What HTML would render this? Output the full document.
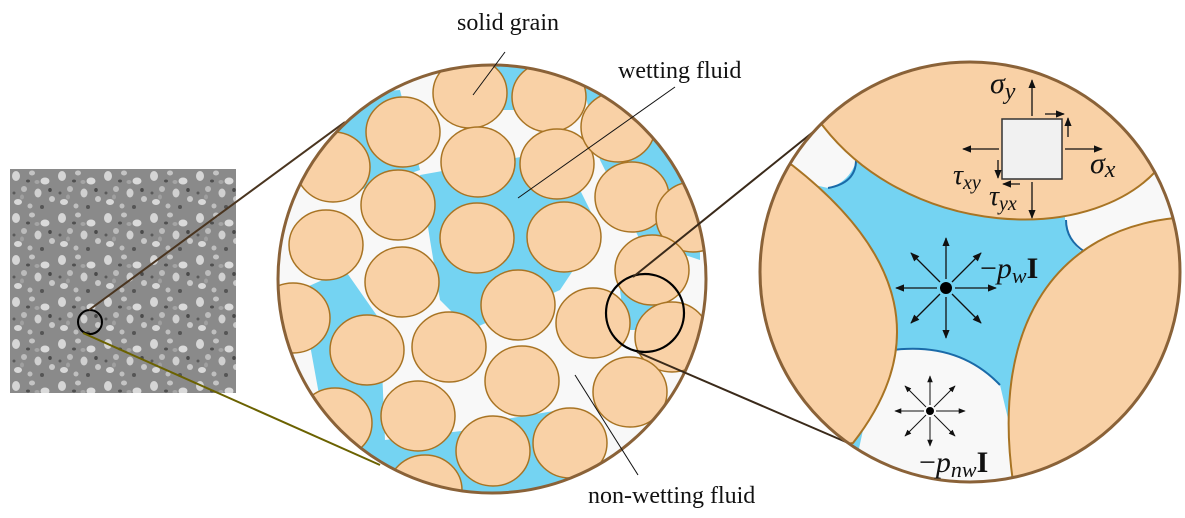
<!DOCTYPE html>
<html><head><meta charset="utf-8"><style>
html,body{margin:0;padding:0;background:#fff;}
svg{display:block;}
text{font-family:"Liberation Serif",serif;fill:#111;}
</style></head><body>
<svg width="1185" height="518" viewBox="0 0 1185 518" xmlns="http://www.w3.org/2000/svg">
<defs>
<pattern id="tex" x="10" y="169" width="46" height="42" patternUnits="userSpaceOnUse">
<rect width="46" height="42" fill="#8a8a8a"/>
<ellipse cx="6" cy="7" rx="4" ry="5" fill="#d6d6d6"/>
<ellipse cx="22" cy="4" rx="3" ry="2.5" fill="#c4c4c4"/>
<ellipse cx="35" cy="12" rx="4.5" ry="3.5" fill="#dadada"/>
<ellipse cx="14" cy="20" rx="3" ry="3" fill="#bcbcbc"/>
<ellipse cx="28" cy="24" rx="3.5" ry="4.5" fill="#d0d0d0"/>
<ellipse cx="42" cy="30" rx="3" ry="3" fill="#c8c8c8"/>
<ellipse cx="8" cy="33" rx="4" ry="3" fill="#d8d8d8"/>
<ellipse cx="20" cy="37" rx="2.5" ry="2.5" fill="#bfbfbf"/>
<ellipse cx="32" cy="38" rx="2" ry="2" fill="#555"/>
<ellipse cx="18" cy="12" rx="2" ry="1.5" fill="#505050"/>
<ellipse cx="40" cy="21" rx="1.8" ry="2" fill="#4a4a4a"/>
<ellipse cx="4" cy="24" rx="1.5" ry="1.5" fill="#5a5a5a"/>
<ellipse cx="27" cy="13" rx="2.5" ry="2" fill="#a5a5a5"/>
<ellipse cx="12" cy="28" rx="2" ry="2.5" fill="#a0a0a0"/>
</pattern>
<clipPath id="cm"><circle cx="492" cy="279" r="214"/></clipPath>
<clipPath id="cr"><circle cx="970" cy="272" r="210"/></clipPath>
<marker id="ar" viewBox="0 0 10 10" refX="9" refY="5" markerWidth="7" markerHeight="7" orient="auto-start-reverse"><path d="M0,1 L10,5 L0,9 Z" fill="#111"/></marker>
</defs>

<rect x="10" y="169" width="226" height="224" fill="url(#tex)"/>
<circle cx="90" cy="322" r="12" fill="none" stroke="#000" stroke-width="2"/>
<line x1="89" y1="310" x2="345" y2="122" stroke="#4a3520" stroke-width="2"/>
<line x1="83" y1="333" x2="380" y2="465" stroke="#6b6200" stroke-width="2"/>

<circle cx="492" cy="279" r="214" fill="#f8f8f8"/>
<g clip-path="url(#cm)" fill="#74d3f2">
<path d="M420 175 L560 150 L600 230 L560 290 L470 330 L440 300 L430 240 Z"/>
<path d="M300 290 L345 270 L380 320 L385 440 L470 430 L500 420 L560 410 L600 470 L560 500 L380 500 L320 470 L320 400 Z"/>
<path d="M580 70 L700 130 L700 260 L640 240 L600 160 Z"/>
<path d="M330 95 L400 90 L420 170 L360 190 L330 150 Z"/>
<path d="M480 65 L560 65 L540 110 L500 110 Z"/>
<path d="M620 290 L665 290 L665 330 L625 330 Z"/>
</g>
<g clip-path="url(#cm)" fill="#f9d1a6" stroke="#a87424" stroke-width="1.5">
<ellipse cx="470" cy="93" rx="37" ry="35"/><ellipse cx="549" cy="97" rx="37" ry="35"/>
<ellipse cx="403" cy="132" rx="37" ry="35"/><ellipse cx="478" cy="162" rx="37" ry="35"/>
<ellipse cx="557" cy="164" rx="37" ry="35"/><ellipse cx="618" cy="127" rx="37" ry="35"/>
<ellipse cx="333" cy="167" rx="37" ry="35"/><ellipse cx="398" cy="205" rx="37" ry="35"/>
<ellipse cx="477" cy="238" rx="37" ry="35"/><ellipse cx="564" cy="237" rx="37" ry="35"/>
<ellipse cx="632" cy="197" rx="37" ry="35"/><ellipse cx="693" cy="217" rx="37" ry="35"/>
<ellipse cx="326" cy="245" rx="37" ry="35"/><ellipse cx="402" cy="282" rx="37" ry="35"/>
<ellipse cx="518" cy="305" rx="37" ry="35"/><ellipse cx="652" cy="270" rx="37" ry="35"/>
<ellipse cx="593" cy="323" rx="37" ry="35"/><ellipse cx="293" cy="318" rx="37" ry="35"/>
<ellipse cx="367" cy="350" rx="37" ry="35"/><ellipse cx="449" cy="347" rx="37" ry="35"/>
<ellipse cx="522" cy="381" rx="37" ry="35"/><ellipse cx="672" cy="337" rx="37" ry="35"/>
<ellipse cx="630" cy="392" rx="37" ry="35"/><ellipse cx="418" cy="416" rx="37" ry="35"/>
<ellipse cx="335" cy="423" rx="37" ry="35"/><ellipse cx="493" cy="451" rx="37" ry="35"/>
<ellipse cx="570" cy="443" rx="37" ry="35"/><ellipse cx="425" cy="490" rx="37" ry="35"/>
</g>
<circle cx="492" cy="279" r="214" fill="none" stroke="#8a6238" stroke-width="3"/>
<circle cx="645" cy="313" r="39" fill="none" stroke="#000" stroke-width="2.2"/>
<line x1="633" y1="277" x2="828" y2="120" stroke="#3a2a1a" stroke-width="2"/>
<line x1="637" y1="352" x2="853" y2="445" stroke="#3a2a1a" stroke-width="2"/>

<text x="457" y="30" font-size="24">solid grain</text>
<line x1="505" y1="52" x2="473" y2="95" stroke="#111" stroke-width="1"/>
<text x="618" y="78" font-size="24">wetting fluid</text>
<line x1="675" y1="87" x2="518" y2="198" stroke="#111" stroke-width="1"/>
<text x="588" y="503" font-size="24">non-wetting fluid</text>
<line x1="575" y1="375" x2="638" y2="475" stroke="#111" stroke-width="1"/>

<circle cx="970" cy="272" r="210" fill="#74d3f2"/>
<g clip-path="url(#cr)">
<path d="M880 352 Q 955 338 1000 385 L1025 490 L850 490 Z" fill="#f8f8f8"/>
<path d="M880 352 Q 955 338 1000 385" fill="none" stroke="#1a6aa8" stroke-width="2"/>
<path d="M790 105 L860 140 Q 858 180 828 188 L770 175 Z" fill="#f8f8f8"/>
<path d="M856 160 Q 856 183 828 188" fill="none" stroke="#1a6aa8" stroke-width="2"/>
<path d="M1065 210 Q 1063 240 1085 254 L1195 230 L1185 140 Z" fill="#f8f8f8"/>
<path d="M1066 220 Q 1066 240 1085 252" fill="none" stroke="#1a6aa8" stroke-width="2"/>
<g fill="#f9d1a6" stroke="#a87424" stroke-width="2">
<path d="M815 115 C 900 240 1100 250 1165 160 L1190 40 L800 40 Z"/>
<path d="M792 165 Q 965 300 853 443 L740 460 L740 150 Z"/>
<path d="M1175 218 C 1060 230 990 320 1013 482 L1200 482 L1200 218 Z"/>
</g>
</g>
<circle cx="970" cy="272" r="210" fill="none" stroke="#8a6238" stroke-width="3"/>

<rect x="1002" y="119" width="60" height="60" fill="#f1f1f1" stroke="#333" stroke-width="1.5"/>
<g stroke="#111" stroke-width="1.3" marker-end="url(#ar)">
<line x1="1032" y1="116" x2="1032" y2="80"/>
<line x1="1032" y1="182" x2="1032" y2="218"/>
<line x1="999" y1="149" x2="963" y2="149"/>
<line x1="1065" y1="149" x2="1102" y2="149"/>
<line x1="1045" y1="114" x2="1064" y2="114"/>
<line x1="1068" y1="137" x2="1068" y2="118"/>
<line x1="998" y1="160" x2="998" y2="178"/>
<line x1="1020" y1="184" x2="1003" y2="184"/>
</g>
<text x="990" y="93" font-size="30" font-style="italic">σ<tspan font-size="24" dy="6">y</tspan></text>
<text x="1090" y="173" font-size="30" font-style="italic">σ<tspan font-size="24" dy="4">x</tspan></text>
<text x="953" y="184" font-size="28" font-style="italic">τ<tspan font-size="20" dy="5">xy</tspan></text>
<text x="989" y="205" font-size="28" font-style="italic">τ<tspan font-size="20" dy="5">yx</tspan></text>

<circle cx="946" cy="288" r="6" fill="#000"/>
<g stroke="#111" stroke-width="1.3" marker-end="url(#ar)">
<line x1="946" y1="279" x2="946" y2="238"/><line x1="946" y1="297" x2="946" y2="338"/>
<line x1="937" y1="288" x2="896" y2="288"/><line x1="955" y1="288" x2="996" y2="288"/>
<line x1="940" y1="282" x2="911" y2="253"/><line x1="952" y1="282" x2="981" y2="253"/>
<line x1="940" y1="294" x2="911" y2="323"/><line x1="952" y1="294" x2="981" y2="323"/>
</g>
<text x="980" y="278" font-size="30">−<tspan font-style="italic">p</tspan><tspan font-style="italic" font-size="22" dy="5">w</tspan><tspan font-weight="bold" dy="-5">I</tspan></text>

<circle cx="930" cy="411" r="4" fill="#000"/>
<g stroke="#111" stroke-width="1" marker-end="url(#ar)">
<line x1="930" y1="405" x2="930" y2="376"/><line x1="930" y1="417" x2="930" y2="446"/>
<line x1="924" y1="411" x2="895" y2="411"/><line x1="936" y1="411" x2="965" y2="411"/>
<line x1="926" y1="407" x2="905" y2="386"/><line x1="934" y1="407" x2="955" y2="386"/>
<line x1="926" y1="415" x2="905" y2="436"/><line x1="934" y1="415" x2="955" y2="436"/>
</g>
<text x="919" y="472" font-size="30">−<tspan font-style="italic">p</tspan><tspan font-style="italic" font-size="22" dy="5">nw</tspan><tspan font-weight="bold" dy="-5">I</tspan></text>
</svg>
</body></html>
